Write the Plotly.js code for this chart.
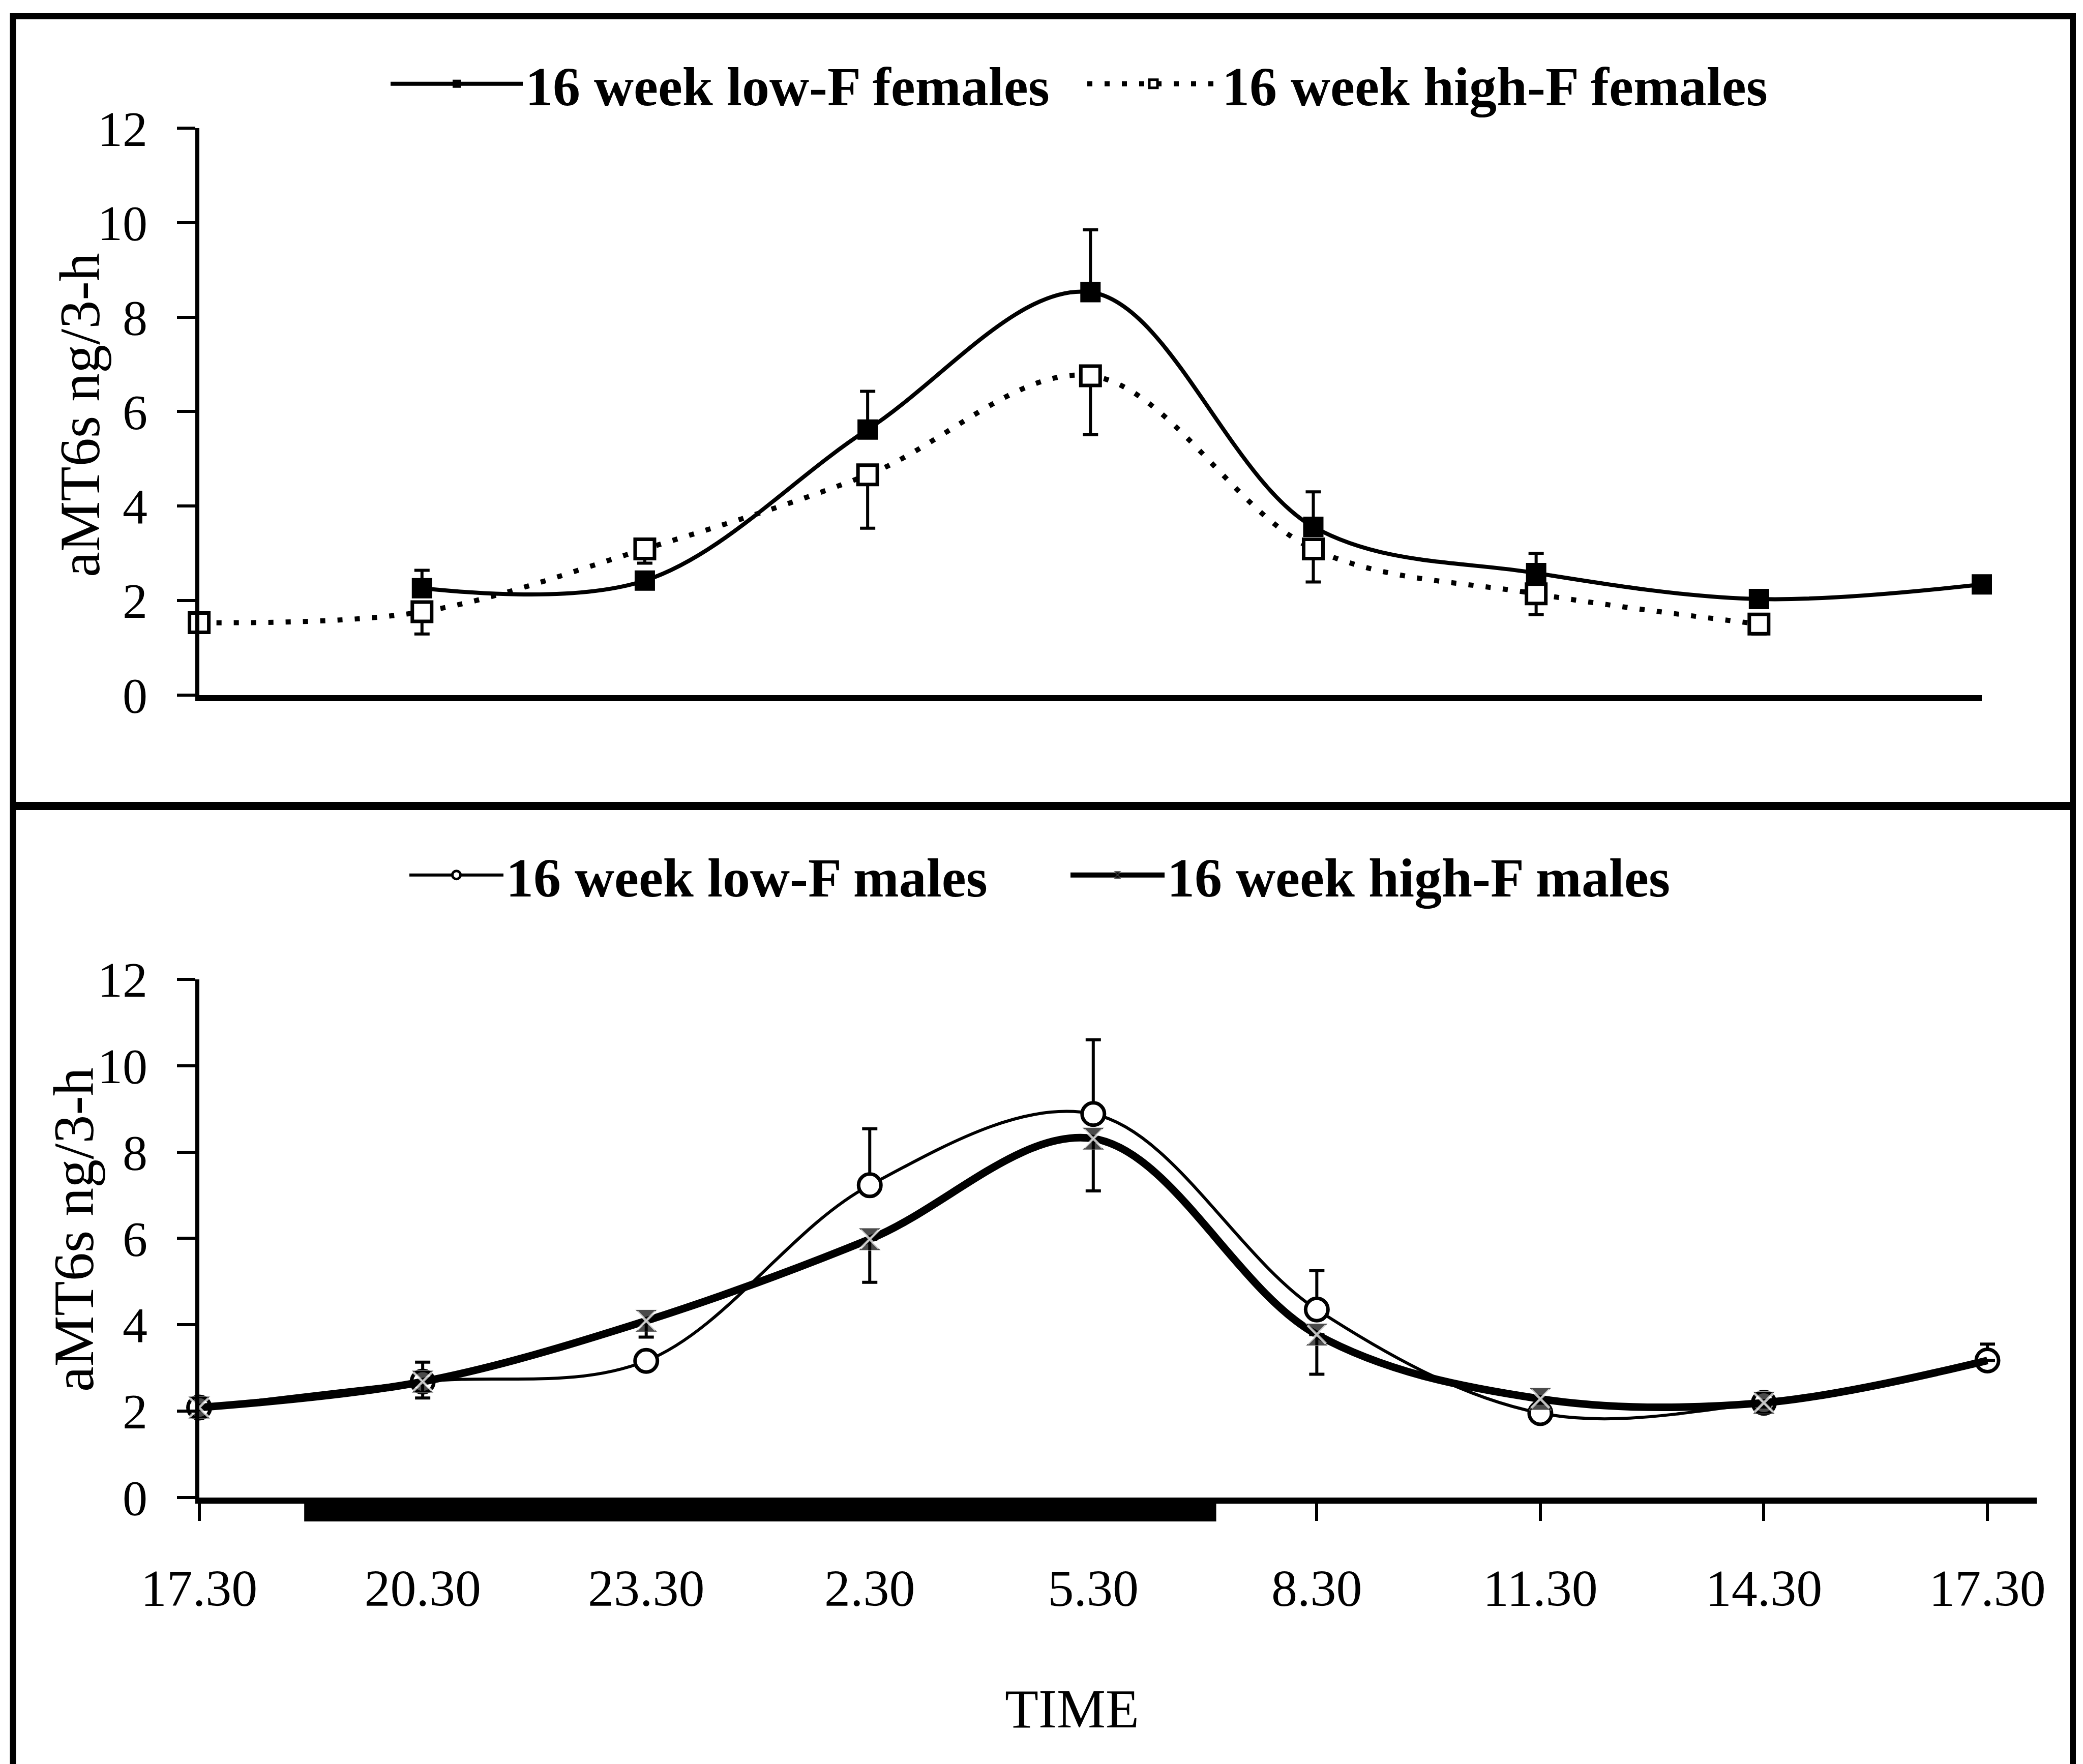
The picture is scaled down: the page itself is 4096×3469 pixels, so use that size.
<!DOCTYPE html>
<html><head><meta charset="utf-8">
<script src="https://cdn.plot.ly/plotly-3.0.1.min.js"></script>
<style>html,body{margin:0;padding:0;background:#fff;} #chart{width:4096px;height:3469px;}</style>
</head><body><div id="chart"></div>
<script>
// ---- data ----
const timeLabels = ['17.30','20.30','23.30','2.30','5.30','8.30','11.30','14.30','17.30'];
const lowFFemales        = [null, 2.26, 2.42, 5.62, 8.53, 3.56, 2.58, 2.03, 2.34];
const lowFFemalesErrUp   = [0, 0.38, 0, 0.81, 1.32, 0.74, 0.42, 0.17, 0.1];
const highFFemales       = [1.53, 1.76, 3.09, 4.66, 6.76, 3.09, 2.14, 1.50, null];
const highFFemalesErrDn  = [0, 0.47, 0.30, 1.13, 1.25, 0.70, 0.44, 0.21, 0];
const lowFMales          = [2.08, 2.68, 3.16, 7.23, 8.88, 4.35, 1.95, 2.19, 3.17];
const lowFMalesErrUp     = [0, 0.45, 0, 1.31, 1.72, 0.90, 0.05, 0.05, 0.38];
const highFMales         = [2.08, 2.68, 4.09, 5.98, 8.31, 3.77, 2.28, 2.19, 3.17];
const highFMalesErrDn    = [0, 0.38, 0.38, 1.00, 1.21, 0.92, 0.10, 0.10, 0];
const yTicks = [0, 2, 4, 6, 8, 10, 12];
const darkPeriod = [0.47, 4.55]; // dark phase, in x positions (index of time points)

// ---- build ----
const xIdx = timeLabels.map((_, i) => i);
const zeros = timeLabels.map(() => 0);
const FONT = 'Liberation Serif, Times New Roman, serif';
const hideLast = s => timeLabels.map((_, i) => i === timeLabels.length - 1 ? 0 : s);

const traces = [
  {
    x: xIdx, y: lowFFemales, xaxis: 'x', yaxis: 'y', legend: 'legend',
    name: '16 week low-F females', mode: 'lines+markers', cliponaxis: false,
    line: {color: 'black', width: 8, shape: 'spline', smoothing: 1},
    marker: {symbol: 'square', size: 40, color: 'black'},
    error_y: {type: 'data', symmetric: false, array: lowFFemalesErrUp, arrayminus: zeros,
              color: 'black', thickness: 6, width: 15}
  },
  {
    x: xIdx, y: highFFemales, xaxis: 'x', yaxis: 'y', legend: 'legend',
    name: '16 week high-F females', mode: 'lines+markers', cliponaxis: false,
    line: {color: 'black', width: 10, dash: '10px,24px', shape: 'spline', smoothing: 1},
    marker: {symbol: 'square', size: 38, color: 'white', line: {color: 'black', width: 7}},
    error_y: {type: 'data', symmetric: false, array: zeros, arrayminus: highFFemalesErrDn,
              color: 'black', thickness: 6, width: 15}
  },
  {
    x: xIdx, y: lowFMales, xaxis: 'x2', yaxis: 'y2', legend: 'legend2',
    name: '16 week low-F males', mode: 'lines+markers', cliponaxis: false,
    line: {color: 'black', width: 6, shape: 'spline', smoothing: 1},
    marker: {symbol: 'circle', size: 44, color: 'white', line: {color: 'black', width: 7}},
    error_y: {type: 'data', symmetric: false, array: lowFMalesErrUp, arrayminus: zeros,
              color: 'black', thickness: 6, width: 15}
  },
  {
    x: xIdx, y: highFMales, xaxis: 'x2', yaxis: 'y2', legend: 'legend2',
    name: '16 week high-F males', mode: 'lines+markers', cliponaxis: false,
    line: {color: 'black', width: 15, shape: 'spline', smoothing: 1},
    marker: {symbol: 'hourglass', size: hideLast(44), color: 'black'},
    error_y: {type: 'data', symmetric: false, array: zeros, arrayminus: highFMalesErrDn,
              color: 'black', thickness: 6, width: 15}
  },
  {
    x: xIdx, y: highFMales, xaxis: 'x2', yaxis: 'y2', legend: 'legend2',
    name: 'high-F males marker', showlegend: false, mode: 'markers', cliponaxis: false,
    marker: {symbol: 'x-thin-open', size: hideLast(36), color: 'white', line: {color: 'white', width: 5}}
  }
];

const W = 4096, H = 3469;
const px = v => v / W, py = v => 1 - v / H;

const yAxisBase = {
  range: [0, 12], tickvals: yTicks, ticks: 'outside', ticklen: 36, tickwidth: 6, tickcolor: 'black',
  showline: true, linewidth: 8, linecolor: 'black', showgrid: false, zeroline: false,
  tickfont: {family: FONT, size: 98, color: 'black'}, ticklabelstandoff: 38, fixedrange: true
};

const layout = {
  width: W, height: H,
  margin: {l: 0, r: 0, t: 0, b: 0},
  paper_bgcolor: 'white', plot_bgcolor: 'white',
  font: {family: FONT, color: 'black'},
  xaxis: {
    domain: [px(391.6), px(3897)], range: [0, 8], anchor: 'y',
    showline: true, linewidth: 12, linecolor: 'black', ticks: '', showticklabels: false,
    showgrid: false, zeroline: false, fixedrange: true
  },
  yaxis: Object.assign({domain: [py(1366.5), py(252.4)], anchor: 'x'}, yAxisBase),
  xaxis2: {
    domain: [px(391.6), px(4004.7)], range: [0, 8.22], anchor: 'y2',
    tickvals: xIdx, ticktext: timeLabels, ticks: 'outside', ticklen: 34, tickwidth: 6, tickcolor: 'black',
    showline: true, linewidth: 12, linecolor: 'black', showgrid: false, zeroline: false,
    tickfont: {family: FONT, size: 102, color: 'black'}, ticklabelstandoff: 45, fixedrange: true
  },
  yaxis2: Object.assign({domain: [py(2944.5), py(1926)], anchor: 'x2'}, yAxisBase),
  legend: {
    orientation: 'h', x: px(763), xanchor: 'left', y: py(165), yanchor: 'middle',
    font: {family: FONT, size: 108, weight: 'bold', color: 'black'},
    itemwidth: 260, entrywidth: 1095, entrywidthmode: 'pixels',
    bgcolor: 'rgba(0,0,0,0)', borderwidth: 0, traceorder: 'normal'
  },
  legend2: {
    orientation: 'h', x: px(800), xanchor: 'left', y: py(1721), yanchor: 'middle',
    font: {family: FONT, size: 108, weight: 'bold', color: 'black'},
    itemwidth: 185, entrywidth: 1100, entrywidthmode: 'pixels',
    bgcolor: 'rgba(0,0,0,0)', borderwidth: 0, traceorder: 'normal'
  },
  annotations: [
    {text: 'aMT6s ng/3-h', xref: 'paper', yref: 'paper', x: px(157), y: py(816), textangle: -90,
     showarrow: false, xanchor: 'center', yanchor: 'middle', font: {family: FONT, size: 112, color: 'black'}},
    {text: 'aMT6s ng/3-h', xref: 'paper', yref: 'paper', x: px(145), y: py(2418), textangle: -90,
     showarrow: false, xanchor: 'center', yanchor: 'middle', font: {family: FONT, size: 112, color: 'black'}},
    {text: 'TIME', xref: 'paper', yref: 'paper', x: px(2108), y: py(3360),
     showarrow: false, xanchor: 'center', yanchor: 'middle', font: {family: FONT, size: 108, color: 'black'}}
  ],
  shapes: [
    // outer frame
    {type: 'rect', xref: 'paper', yref: 'paper', x0: px(25.5), x1: px(4076), y0: -0.02, y1: py(32),
     line: {color: 'black', width: 12}, fillcolor: 'rgba(0,0,0,0)', layer: 'above'},
    // panel divider
    {type: 'line', xref: 'paper', yref: 'paper', x0: px(25.5), x1: px(4076), y0: py(1585), y1: py(1585),
     line: {color: 'black', width: 16}, layer: 'above'},
    // dark-period bar under the lower time axis
    {type: 'rect', xref: 'x2', yref: 'paper', x0: darkPeriod[0], x1: darkPeriod[1], y0: py(2992), y1: py(2946),
     fillcolor: 'black', line: {width: 0}, layer: 'above'}
  ],
  showlegend: true
};

Plotly.newPlot('chart', traces, layout, {staticPlot: true, displayModeBar: false});
</script>
</body></html>
